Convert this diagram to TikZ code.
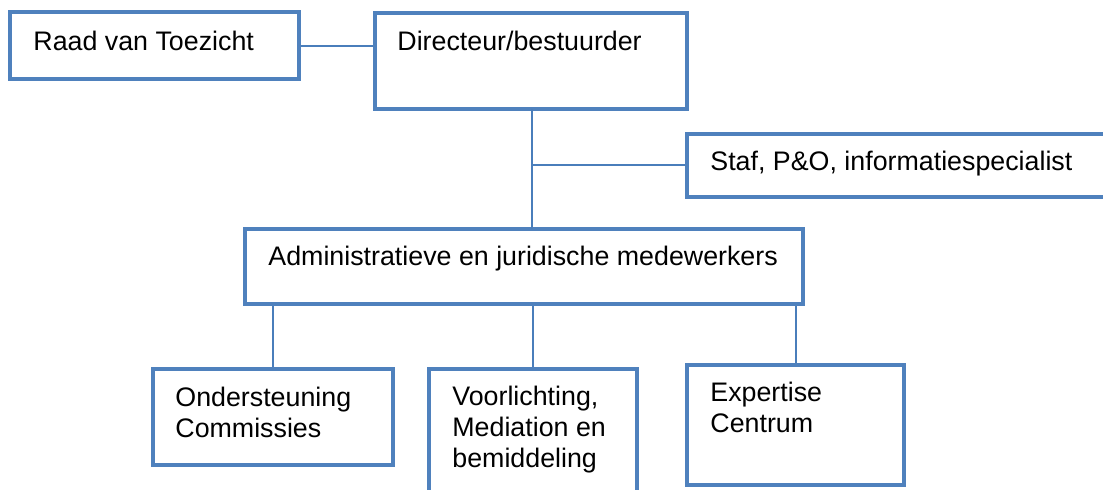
\documentclass[tikz,border=0pt]{standalone}
\usepackage{fontspec}
\setmainfont{Liberation Sans}
\usetikzlibrary{fit}
\definecolor{boxblue}{HTML}{4F81BD}
\definecolor{lineblue}{HTML}{4A7EBB}
\tikzset{
  box/.style={draw=boxblue, line width=2.4pt, inner sep=0pt, rectangle, fill=white},
  lbl/.style={anchor=base west, inner sep=0pt, align=left, font=\fontsize{13.4}{15.5}\selectfont},
  conn/.style={draw=lineblue, line width=1pt}
}
\begin{document}
\begin{tikzpicture}[x=0.5pt,y=-0.5pt]
\useasboundingbox (0,0) rectangle (1103,489);
\clip (0,0) rectangle (1103,489);
% boxes
\node[box, fit={(10,12) (299,79)}] (raad) {};
\node[box, fit={(375,13) (687,109)}] (dir) {};
\node[box, fit={(687,134) (1120,197)}] (staf) {};
\node[box, fit={(245,229) (803,304)}] (admin) {};
\node[box, fit={(153,369) (393,465)}] (ond) {};
\node[box, fit={(429,369) (637,510)}] (voor) {};
\node[box, fit={(687,365) (904,485)}] (exp) {};
% texts (multi-line nodes: base = last line)
\node[lbl] (traad) at (33,50) {Raad van Toezicht};
\node[lbl] (tdir) at (397,50) {Directeur/bestuurder};
\node[lbl] (tstaf) at (710,170) {Staf, P\&O, informatiespecialist};
\node[lbl] (tadmin) at (268,265) {Administratieve en juridische medewerkers};
\node[lbl] (tond) at (175,437) {Ondersteuning\\Commissies};
\node[lbl] (tvoor) at (452,467) {Voorlichting,\\Mediation en\\bemiddeling};
\node[lbl] (texp) at (710,432) {Expertise\\Centrum};
% connectors
\coordinate (j) at (532,165);
\coordinate (dtop) at (532,109);
\coordinate (abot) at (532,229);
\draw[conn] (raad.east) -- (raad.east -| dir.west);
\draw[conn] (dtop) -- (abot);
\draw[conn] (j) -- (j -| staf.west);
\draw[conn] (ond.north) -- (ond.north |- admin.south);
\draw[conn] (voor.north) -- (voor.north |- admin.south);
\draw[conn] (exp.north) -- (exp.north |- admin.south);
\end{tikzpicture}
\end{document}
